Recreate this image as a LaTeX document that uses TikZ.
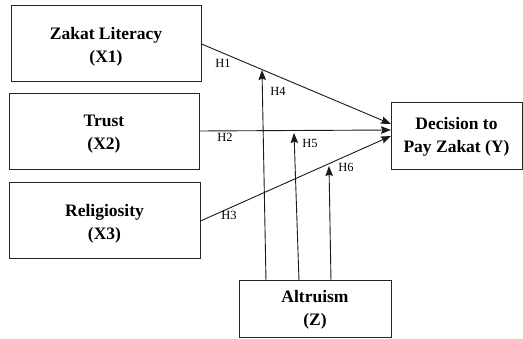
\documentclass[tikz,border=0pt]{standalone}
\usepackage{fontspec}
\setmainfont{Liberation Serif}
\usetikzlibrary{arrows.meta}
\begin{document}
\begin{tikzpicture}[x=1pt,y=-1pt,
  varbox/.style={draw=black!85,line width=1pt,rectangle,inner sep=0pt},
  vartext/.style={inner sep=0pt,align=center,font=\fontsize{17.5}{23}\selectfont\bfseries},
  conn/.style={draw=black!90,line width=0.9pt,-{Stealth[length=10pt,width=7.5pt,inset=1.5pt]}},
  hlab/.style={font=\fontsize{12.5}{14}\selectfont,inner sep=0pt}]
\useasboundingbox (0,0) rectangle (523,339);
\node[varbox,minimum width=190pt,minimum height=76pt] (x1) at (106,44) {};
\node[varbox,minimum width=190pt,minimum height=76pt] (x2) at (104,132) {};
\node[varbox,minimum width=191pt,minimum height=76pt] (x3) at (104.5,221) {};
\node[varbox,minimum width=131pt,minimum height=67pt] (y) at (456.5,136.5) {};
\node[varbox,minimum width=152pt,minimum height=57pt] (z) at (315,309.5) {};
\node[vartext] (x1t) at ([yshift=-3pt]x1.center) {Zakat Literacy\\(X1)};
\node[vartext] (x2t) at ([yshift=-2pt]x2.center) {Trust\\(X2)};
\node[vartext] (x3t) at ([yshift=-3pt]x3.center) {Religiosity\\(X3)};
\node[vartext] (yt) at ([yshift=-0.5pt]y.center) {Decision to\\Pay Zakat (Y)};
\node[vartext] (zt) at ([yshift=-0.5pt]z.center) {Altruism\\(Z)};
\coordinate (t1) at (391,124);
\coordinate (t2) at (391,130);
\coordinate (t3) at (391,136);
\coordinate (t4) at (262,70);
\coordinate (t5) at (294,133);
\coordinate (t6) at (329,166);
\coordinate (b4) at (266,281);
\coordinate (b5) at (299,281);
\coordinate (b6) at (331,281);
\draw[conn] (x1.east |- 0,44) -- (t1);
\draw[conn] (x2.east |- 0,131) -- (t2);
\draw[conn] (x3.east |- 0,221) -- (t3);
\draw[conn] (b4) -- (t4);
\draw[conn] (b5) -- (t5);
\draw[conn] (b6) -- (t6);
\node[hlab] (h1) at (223,63) {H1};
\node[hlab] (h2) at (225,137) {H2};
\node[hlab] (h3) at (229,215) {H3};
\node[hlab] (h4) at (278,91) {H4};
\node[hlab] (h5) at (310,143) {H5};
\node[hlab] (h6) at (346,167) {H6};
\end{tikzpicture}
\end{document}
